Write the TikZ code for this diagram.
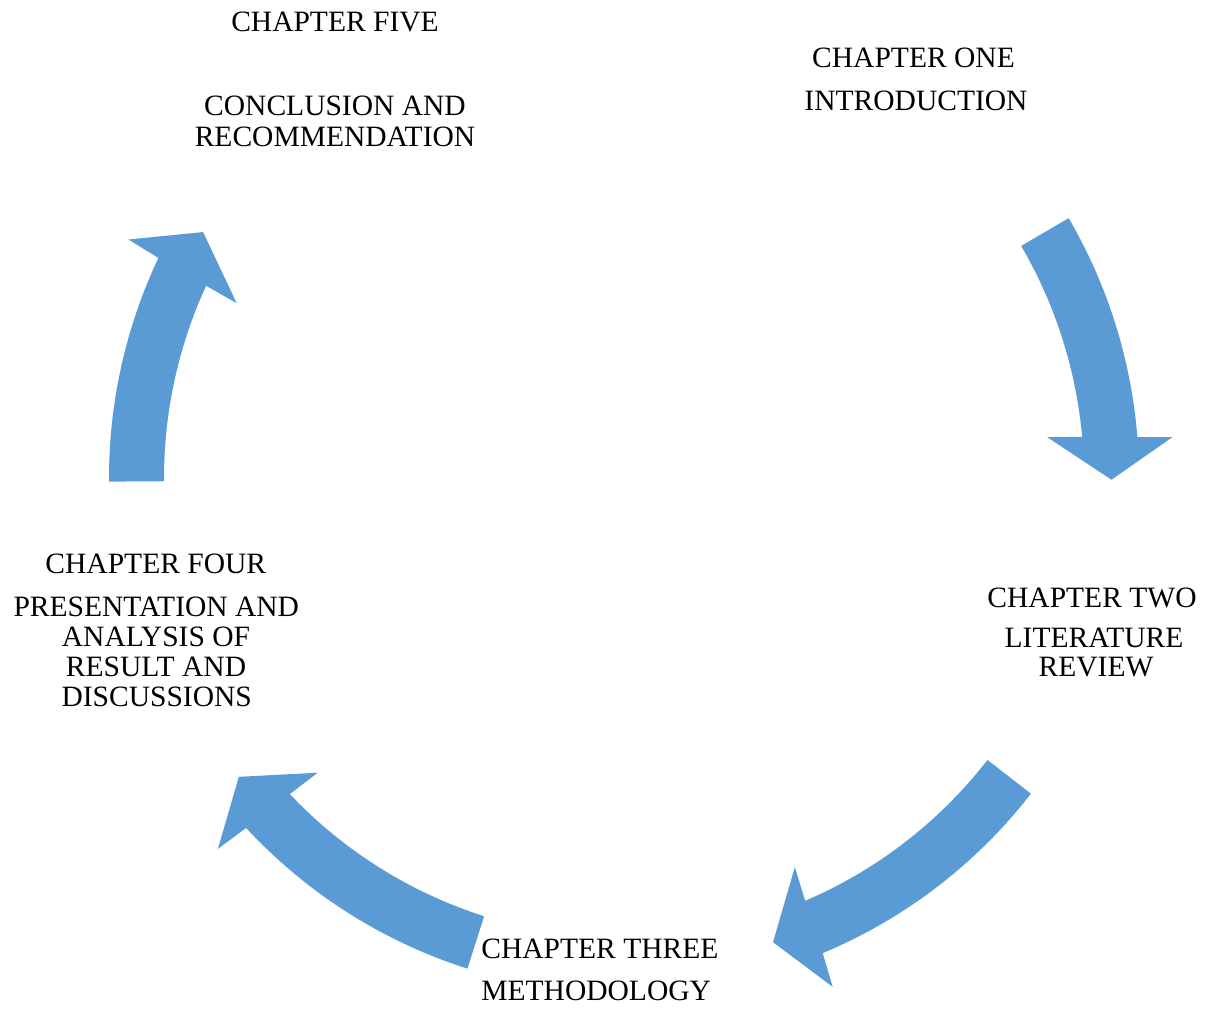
\documentclass[tikz,border=0pt]{standalone}
\usepackage{fontspec}
\setmainfont{Liberation Serif}
\definecolor{arrowblue}{RGB}{91,155,213}
\tikzset{
  cyclearrowstyle/.style={fill=arrowblue, draw=none},
  label/.style={inner sep=0pt, font=\fontsize{8.4pt}{8.6pt}\selectfont, text=black},
}
% #1 tail angle, #2 notch outer, #3 base outer, #4 tip, #5 base inner, #6 notch inner
\newcommand{\cyclearrow}[6]{%
  \fill[cyclearrowstyle] (#1:5.15) arc[start angle=#1, end angle=#2, radius=5.15]
    -- (#3:5.50) -- (#4:4.875) -- (#5:4.25) -- (#6:4.60)
    arc[start angle=#6, end angle=#1, radius=4.60] -- cycle;}
\begin{document}
\begin{tikzpicture}
\useasboundingbox (0,0) rectangle (12.10,-10.09);
\coordinate (C) at (6.24,-4.78);
\begin{scope}[shift={(C)}]
  \cyclearrow{30.3}{4.56}{4.27}{-0.2}{5.54}{5.12}
  \cyclearrow{-37.8}{-67.3}{-67.7}{-72.2}{-66.3}{-66.8}
  \cyclearrow{-107.7}{-137.2}{-137.6}{-142.2}{-136.1}{-136.6}
  \cyclearrow{180.4}{154.7}{154.3}{149.7}{155.7}{155.3}
\end{scope}
% Chapter five
\node[label, anchor=base] (five1) at (3.35,-0.31) {CHAPTER FIVE};
\node[label, anchor=base] (five2) at (3.35,-1.155) {CONCLUSION AND};
\node[label, anchor=base] (five3) at (3.35,-1.46) {RECOMMENDATION};
% Chapter one
\node[label, anchor=base] (one1) at (9.135,-0.67) {CHAPTER ONE};
\node[label, anchor=base] (one2) at (9.16,-1.10) {INTRODUCTION};
% Chapter two
\node[label, anchor=base] (two1) at (10.92,-6.07) {CHAPTER TWO};
\node[label, anchor=base] (two2) at (10.94,-6.47) {LITERATURE};
\node[label, anchor=base] (two3) at (10.96,-6.76) {REVIEW};
% Chapter three
\node[label, anchor=base west] (three1) at (4.807,-9.58) {CHAPTER THREE};
\node[label, anchor=base west] (three2) at (4.807,-10.00) {METHODOLOGY};
% Chapter four
\node[label, anchor=base] (four1) at (1.558,-5.73) {CHAPTER FOUR};
\node[label, anchor=base] (four2) at (1.563,-6.16) {PRESENTATION AND};
\node[label, anchor=base] (four3) at (1.56,-6.46) {ANALYSIS OF};
\node[label, anchor=base] (four4) at (1.56,-6.76) {RESULT AND};
\node[label, anchor=base] (four5) at (1.567,-7.06) {DISCUSSIONS};
\end{tikzpicture}
\end{document}
